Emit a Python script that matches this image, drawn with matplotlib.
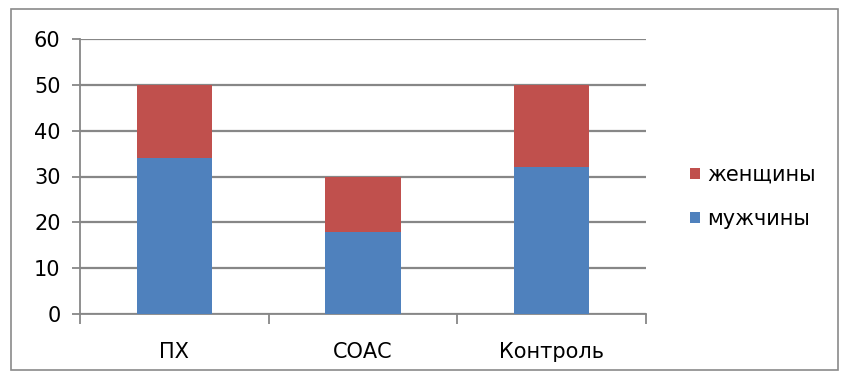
import matplotlib.pyplot as plt
import matplotlib.patches as patches
import numpy as np

plt.rcParams['font.family'] = ['DejaVu Sans']

groups = ['ПХ', 'СОАС', 'Контроль']
men = [34, 18, 32]
women = [16, 12, 18]
series_names = ['мужчины', 'женщины']
y_ticks = [0, 10, 20, 30, 40, 50, 60]

c_blue = '#4F81BD'
c_red = '#C0504D'
c_grid = '#878787'

fig = plt.figure(figsize=(8.43, 3.76), dpi=100)
ax = fig.add_axes([80 / 843, 1 - 314 / 376, 566 / 843, 275 / 376])

x = np.arange(len(groups))
b_men = ax.bar(x, men, width=0.4, color=c_blue, zorder=3, label=series_names[0])
b_women = ax.bar(x, women, width=0.4, bottom=men, color=c_red, zorder=3,
                 label=series_names[1])

ax.set_xlim(-0.5, len(groups) - 0.5)
ax.set_ylim(0, 60)
ax.set_yticks(y_ticks)
ax.yaxis.grid(True, color=c_grid, lw=1.6, zorder=0)

# category labels centred under bars, tick marks between categories
ax.set_xticks(np.arange(len(groups) + 1) - 0.5)
ax.set_xticklabels([])
ax.set_xticks(x, minor=True)
ax.set_xticklabels(groups, minor=True, fontsize=15)
ax.tick_params(axis='x', which='minor', length=0, pad=20)
ax.tick_params(axis='x', which='major', length=7, width=1.3, color=c_grid)
ax.tick_params(axis='y', length=6, width=1.3, color=c_grid, labelsize=15, pad=8)

for s in ['top', 'right']:
    ax.spines[s].set_visible(False)
for s in ['left', 'bottom']:
    ax.spines[s].set_color(c_grid)
    ax.spines[s].set_linewidth(1.3)

leg = fig.legend(handles=[b_women, b_men], labels=[series_names[1], series_names[0]],
                 loc='center left', bbox_to_anchor=(682 / 843, 1 - 197 / 376),
                 frameon=False, fontsize=15, handlelength=0.45, handleheight=0.45,
                 handletextpad=0.35, labelspacing=1.15, borderaxespad=0)

# outer chart border
border = patches.Rectangle((11 / 843, 1 - 370 / 376), 827 / 843, 361 / 376,
                           transform=fig.transFigure, fill=False,
                           edgecolor='#8a8a8a', lw=1.2)
fig.patches.append(border)

fig.savefig('out.png', dpi=100)
